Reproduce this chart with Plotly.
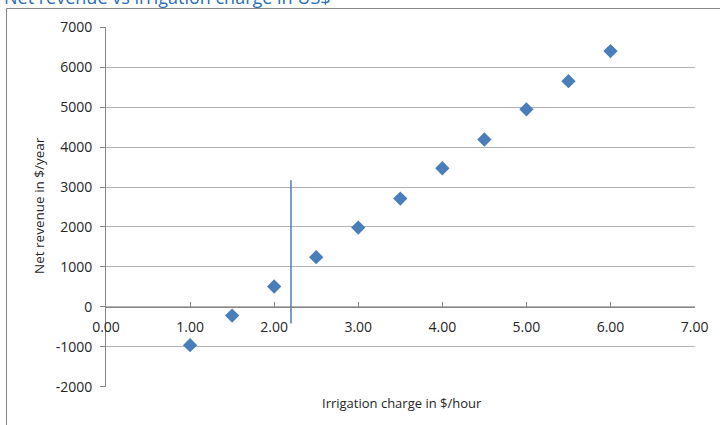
import plotly.graph_objects as go

# Irrigation charge ($/hour) and resulting net revenue ($/year)
charge = [1.0, 1.5, 2.0, 2.5, 3.0, 3.5, 4.0, 4.5, 5.0, 5.5, 6.0]
net_revenue = [-960, -218, 509, 1243, 1985, 2710, 3470, 4190, 4945, 5650, 6405]

# Break-even marker line
breakeven_x = [2.2, 2.2]
breakeven_y = [-420, 3170]

x_ticks = [0, 1, 2, 3, 4, 5, 6, 7]
y_ticks = [-2000, -1000, 0, 1000, 2000, 3000, 4000, 5000, 6000, 7000]
x_labels = [f"{v:.2f}" for v in x_ticks]
y_labels = [str(v) for v in y_ticks]

W, H = 720, 425
L, R, T, B = 106, 25, 27, 38
PW, PH = W - L - R, H - T - B


def px(x):
    return (x - L) / PW


def py(y):
    return (H - B - y) / PH


FONT = "Open Sans"
TXT = "#262626"
BLUE = "#4a7ebb"
AXIS = "#868686"
GRID = "#b3b3b3"

y_min, y_max = y_ticks[0], y_ticks[-1]
pad = 8  # small slack so the outermost gridlines are drawn

fig = go.Figure()
fig.add_trace(go.Scatter(
    x=charge, y=net_revenue, mode="markers",
    marker=dict(symbol="diamond", size=11, color=BLUE, line=dict(width=0)),
    showlegend=False, hoverinfo="x+y",
))
fig.add_trace(go.Scatter(
    x=breakeven_x, y=breakeven_y, mode="lines",
    line=dict(color=BLUE, width=1.5), showlegend=False, hoverinfo="skip",
))

fig.update_layout(
    width=W, height=H,
    margin=dict(l=L, r=R, t=T, b=B, pad=0),
    paper_bgcolor="white", plot_bgcolor="white",
    font=dict(family=FONT, size=14, color=TXT),
    xaxis=dict(
        range=[x_ticks[0], x_ticks[-1] + 0.005],
        tickvals=x_ticks, ticktext=x_labels,
        anchor="free", position=(0 - y_min + pad) / (y_max - y_min + 2 * pad),
        showgrid=False, zeroline=False,
        showline=True, linecolor=AXIS, linewidth=1,
        ticks="inside", ticklen=5, tickcolor=AXIS,
        ticklabelstandoff=7,
        tickfont=dict(family=FONT, size=14, color=TXT),
    ),
    yaxis=dict(
        range=[y_min - pad, y_max + pad],
        tickvals=y_ticks, ticktext=y_labels,
        showgrid=True, gridcolor=GRID, gridwidth=1, zeroline=False,
        showline=True, linecolor=AXIS, linewidth=1,
        ticks="outside", ticklen=5, tickcolor=AXIS,
        ticklabelstandoff=5,
        tickfont=dict(family=FONT, size=14, color=TXT),
    ),
    annotations=[
        dict(text="Net revenue vs irrigation charge in US$",
             xref="paper", yref="paper", x=px(2), y=py(11),
             xanchor="left", yanchor="bottom", showarrow=False,
             font=dict(family=FONT, size=18, color="#2a6db8")),
        dict(text="Net revenue in $/year", textangle=-90,
             xref="paper", yref="paper", x=px(39), y=py(206),
             xanchor="center", yanchor="middle", showarrow=False,
             font=dict(family=FONT, size=13.5, color=TXT)),
        dict(text="Irrigation charge in $/hour",
             xref="paper", yref="paper", x=px(402), y=py(403),
             xanchor="center", yanchor="middle", showarrow=False,
             font=dict(family=FONT, size=13, color=TXT)),
    ],
    shapes=[
        dict(type="line", xref="paper", yref="paper",
             x0=px(6.5), x1=px(6.5), y0=py(8.5), y1=py(440),
             line=dict(color=AXIS, width=1)),
        dict(type="line", xref="paper", yref="paper",
             x0=px(6.5), x1=px(730), y0=py(8.5), y1=py(8.5),
             line=dict(color=AXIS, width=1)),
    ],
)

fig.write_html("out.html")
